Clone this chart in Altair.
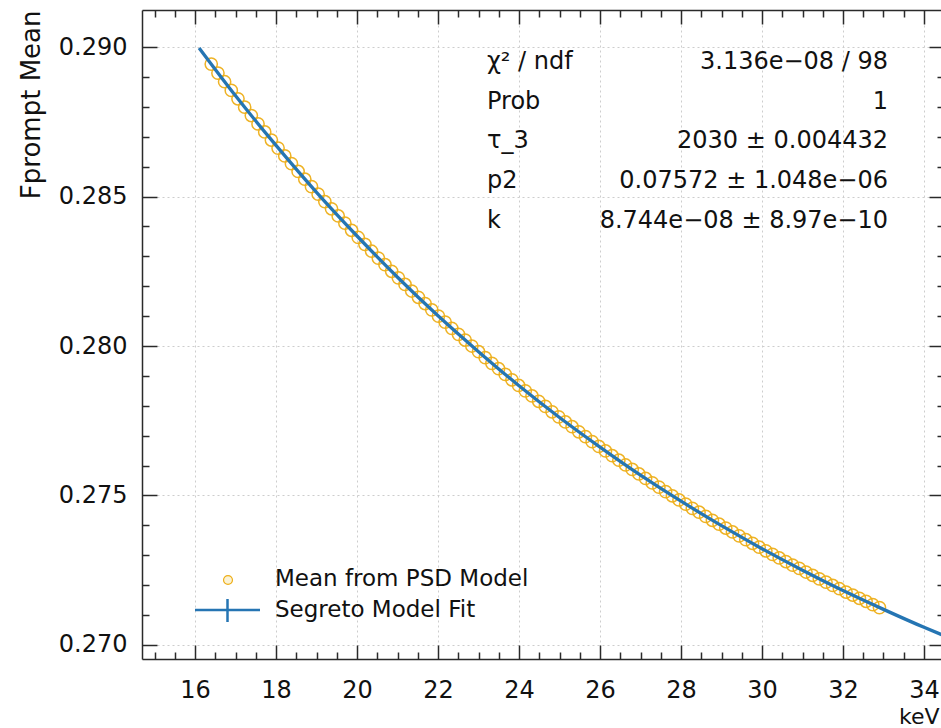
import altair as alt
import pandas as pd

# ---------------- data ----------------
energy = [16.400, 16.565, 16.730, 16.895, 17.060, 17.225, 17.390, 17.555, 17.720, 17.885,
          18.050, 18.215, 18.380, 18.545, 18.710, 18.875, 19.040, 19.205, 19.370, 19.535,
          19.700, 19.865, 20.030, 20.195, 20.360, 20.525, 20.690, 20.855, 21.020, 21.185,
          21.350, 21.515, 21.680, 21.845, 22.010, 22.175, 22.340, 22.505, 22.670, 22.835,
          23.000, 23.165, 23.330, 23.495, 23.660, 23.825, 23.990, 24.155, 24.320, 24.485,
          24.650, 24.815, 24.980, 25.145, 25.310, 25.475, 25.640, 25.805, 25.970, 26.135,
          26.300, 26.465, 26.630, 26.795, 26.960, 27.125, 27.290, 27.455, 27.620, 27.785,
          27.950, 28.115, 28.280, 28.445, 28.610, 28.775, 28.940, 29.105, 29.270, 29.435,
          29.600, 29.765, 29.930, 30.095, 30.260, 30.425, 30.590, 30.755, 30.920, 31.085,
          31.250, 31.415, 31.580, 31.745, 31.910, 32.075, 32.240, 32.405, 32.570, 32.735,
          32.900]
fprompt_mean = [0.28943, 0.28913, 0.28884, 0.28855, 0.28827, 0.28799, 0.28771, 0.28743, 0.28716, 0.28689,
                0.28662, 0.28636, 0.28610, 0.28584, 0.28558, 0.28533, 0.28508, 0.28483, 0.28459, 0.28435,
                0.28411, 0.28387, 0.28363, 0.28340, 0.28317, 0.28294, 0.28272, 0.28250, 0.28228, 0.28206,
                0.28184, 0.28163, 0.28142, 0.28121, 0.28100, 0.28080, 0.28059, 0.28039, 0.28020, 0.28000,
                0.27981, 0.27961, 0.27942, 0.27924, 0.27905, 0.27887, 0.27868, 0.27850, 0.27833, 0.27815,
                0.27798, 0.27780, 0.27763, 0.27746, 0.27730, 0.27713, 0.27697, 0.27680, 0.27664, 0.27649,
                0.27633, 0.27618, 0.27602, 0.27587, 0.27572, 0.27557, 0.27542, 0.27528, 0.27513, 0.27499,
                0.27485, 0.27471, 0.27457, 0.27444, 0.27430, 0.27417, 0.27404, 0.27391, 0.27378, 0.27365,
                0.27352, 0.27340, 0.27327, 0.27315, 0.27303, 0.27291, 0.27279, 0.27267, 0.27256, 0.27244,
                0.27233, 0.27221, 0.27210, 0.27199, 0.27188, 0.27177, 0.27167, 0.27156, 0.27146, 0.27135,
                0.27125]

fit_energy = [16.1, 17, 18, 19, 20, 21, 22, 23, 24, 25, 26, 27, 28, 29, 30, 31, 32, 33, 34, 34.5]
fit_value = [0.28997, 0.28837, 0.28671, 0.28514, 0.28368, 0.28230, 0.28101, 0.27981, 0.27867, 0.27761,
             0.27662, 0.27568, 0.27481, 0.27399, 0.27322, 0.27250, 0.27182, 0.27119, 0.27059, 0.27031]

x_major = [16, 18, 20, 22, 24, 26, 28, 30, 32, 34]
x_minor = [15.0, 15.5, 16.5, 17.0, 17.5, 18.5, 19.0, 19.5, 20.5, 21.0, 21.5, 22.5, 23.0, 23.5,
           24.5, 25.0, 25.5, 26.5, 27.0, 27.5, 28.5, 29.0, 29.5, 30.5, 31.0, 31.5, 32.5, 33.0,
           33.5, 34.5]
y_major = [0.270, 0.275, 0.280, 0.285, 0.290]
y_minor = [0.271, 0.272, 0.273, 0.274, 0.276, 0.277, 0.278, 0.279, 0.281, 0.282, 0.283,
           0.284, 0.286, 0.287, 0.288, 0.289]

stat_names = ["χ² / ndf", "Prob", "τ_3", "p2", "k"]
stat_values = ["3.136e−08 / 98", "1", "2030 ± 0.004432", "0.07572 ± 1.048e−06", "8.744e−08 ± 8.97e−10"]
legend_labels = ["Mean from PSD Model", "Segreto Model Fit"]

# ---------------- styling ----------------
FONT = "DejaVu Sans"
TXT = "#111111"
FRAME = "#2a2a2a"
ORANGE = "#eeaf1a"
BLUE = "#2575b3"
W, H = 799, 649

pts = pd.DataFrame({"e": energy, "m": fprompt_mean})
fit = pd.DataFrame({"e": fit_energy, "m": fit_value})

xs = alt.Scale(domain=[14.69, 34.42], nice=False, zero=False)
ys = alt.Scale(domain=[0.26953, 0.29124], nice=False, zero=False)

grid_kw = dict(grid=True, gridColor="#cdcdcd", gridDash=[2, 3], gridWidth=1)

ax_x_lab = alt.Axis(orient="bottom", values=x_major, format="d", ticks=False, tickSize=0,
                    labelPadding=38, labelBaseline="alphabetic", labelFontSize=24, labelFont=FONT,
                    labelColor=TXT, labelFlush=False, domain=True, domainColor=FRAME, domainWidth=1.5,
                    title="keV", titleX=W - 2, titleY=64, titleAlign="right", titleBaseline="alphabetic",
                    titleFontSize=22, titleFont=FONT, titleFontWeight="normal", titleColor=TXT, **grid_kw)
ax_y_lab = alt.Axis(orient="left", values=y_major, format=".3f", ticks=False, tickSize=0,
                    labelPadding=15, labelFontSize=24, labelFont=FONT, labelColor=TXT, labelFlush=False,
                    domain=True, domainColor=FRAME, domainWidth=1.5,
                    title="Fprompt Mean", titleAngle=270, titleAlign="right", titleBaseline="middle",
                    titleX=-111, titleY=0, titleFontSize=26, titleFont=FONT, titleFontWeight="normal",
                    titleColor=TXT, **grid_kw)


def tick_axis(orient, offset, values, size, domain=False):
    return alt.Axis(orient=orient, offset=offset, values=values, labels=False, ticks=True,
                    tickSize=size, tickColor=FRAME, tickWidth=1.5, domain=domain,
                    domainColor=FRAME, domainWidth=1.5, grid=False, title="")


ax_xb_major = tick_axis("top", -H, x_major, 14)
ax_xb_minor = tick_axis("top", -H, x_minor, 7)
ax_xt_major = tick_axis("bottom", -H, x_major, 14, domain=True)
ax_xt_minor = tick_axis("bottom", -H, x_minor, 7)
ax_yl_major = tick_axis("right", -W, y_major, 15)
ax_yl_minor = tick_axis("right", -W, y_minor, 7)
ax_yr_major = tick_axis("left", -(W + 3), y_major, 15)
ax_yr_minor = tick_axis("left", -(W + 3), y_minor, 7)

points = alt.Chart(pts).mark_point(shape="circle", filled=False, color=ORANGE, size=150,
                                   strokeWidth=1.5, opacity=0.95).encode(
    x=alt.X("e:Q", scale=xs, axis=ax_x_lab),
    y=alt.Y("m:Q", scale=ys, axis=ax_y_lab),
)

line = alt.Chart(fit).mark_line(color=BLUE, strokeWidth=3.3, clip=True, interpolate="monotone").encode(
    x=alt.X("e:Q", scale=xs, axis=ax_xb_major),
    y=alt.Y("m:Q", scale=ys, axis=ax_yl_major),
)


def ghost(ax_x, ax_y):
    return alt.Chart(fit).mark_line(opacity=0, clip=True).encode(
        x=alt.X("e:Q", scale=xs, axis=ax_x),
        y=alt.Y("m:Q", scale=ys, axis=ax_y),
    )


g1 = ghost(ax_xb_minor, ax_yl_minor)
g2 = ghost(ax_xt_major, ax_yr_major)
g3 = ghost(ax_xt_minor, ax_yr_minor)

# statistics box
stat_layers = []
row_y = [52, 92, 131, 171, 211]
for i in range(len(stat_names)):
    dn = pd.DataFrame({"t": [stat_names[i]]})
    dv = pd.DataFrame({"t": [stat_values[i]]})
    stat_layers.append(alt.Chart(dn).mark_text(align="left", baseline="middle", font=FONT,
                                               fontSize=24, color=TXT).encode(
        x=alt.value(345), y=alt.value(row_y[i]), text="t:N"))
    stat_layers.append(alt.Chart(dv).mark_text(align="right", baseline="middle", font=FONT,
                                               fontSize=24, color=TXT).encode(
        x=alt.value(746), y=alt.value(row_y[i]), text="t:N"))

# legend
one = pd.DataFrame({"a": [0]})
leg_circle = alt.Chart(one).mark_point(shape="circle", filled=True, fill="#fbf3d6", stroke=ORANGE,
                                       strokeWidth=1.2, size=80, opacity=1).encode(
    x=alt.value(86), y=alt.value(570))
leg_hline = alt.Chart(one).mark_rule(color=BLUE, strokeWidth=2.5).encode(
    x=alt.value(53), x2=alt.value(118), y=alt.value(600))
leg_vline = alt.Chart(one).mark_rule(color=BLUE, strokeWidth=2.5).encode(
    x=alt.value(85.5), y=alt.value(589), y2=alt.value(612))
leg_text = []
leg_y = [569, 600]
for i, lab in enumerate(legend_labels):
    leg_text.append(alt.Chart(pd.DataFrame({"t": [lab]})).mark_text(
        align="left", baseline="middle", font=FONT, fontSize=23, color=TXT).encode(
        x=alt.value(133), y=alt.value(leg_y[i]), text="t:N"))

chart = alt.layer(points, line, g1, g2, g3, *stat_layers, leg_circle, leg_hline, leg_vline,
                  *leg_text).resolve_axis(x="independent", y="independent").properties(
    width=W, height=H,
    autosize=alt.AutoSizeParams(type="none"),
    padding={"left": 142, "top": 10, "right": 0, "bottom": 69},
    background="white",
).configure_view(stroke=None)

chart.save("out.html", embed_options={"renderer": "svg", "actions": False})
